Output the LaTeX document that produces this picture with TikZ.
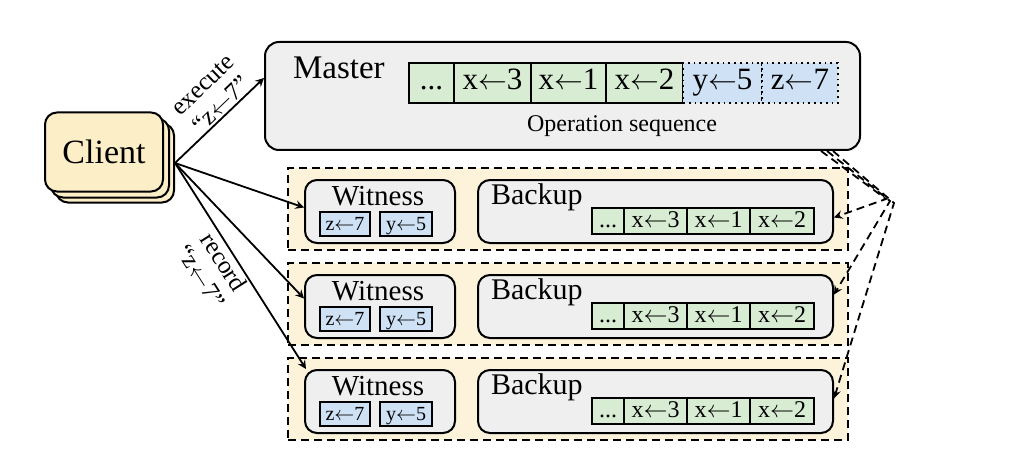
\documentclass[tikz,border=0pt]{standalone}
\usepackage{fontspec}
\setmainfont{Liberation Serif}
\usetikzlibrary{positioning}

\definecolor{clientfill}{HTML}{FCEFC8}
\definecolor{replicafill}{HTML}{FDF3DA}
\definecolor{boxgray}{HTML}{EFEFF0}
\definecolor{cellgreen}{HTML}{D7ECD2}
\definecolor{cellblue}{HTML}{CFE1F4}

\newcommand{\op}[2]{#1$\leftarrow$#2}
\newcommand{\opdots}{...}

\begin{document}
\begin{tikzpicture}[x=0.5pt, y=-0.5pt, >=stealth,
  box/.style={draw, line width=1pt, fill=boxgray, rounded corners=7pt, inner sep=0pt},
  clientbox/.style={draw, line width=1pt, fill=clientfill, rounded corners=6pt,
    minimum width=59pt, minimum height=39.5pt, inner sep=0pt},
  replica/.style={draw, line width=1pt, dashed, dash pattern=on 4pt off 2.5pt,
    fill=replicafill, minimum width=280pt, minimum height=41pt, inner sep=0pt},
  cell/.style={draw, line width=0.9pt, fill=cellgreen, inner sep=0pt,
    text height=0.68em, text depth=0.05em},
  bigcell/.style={cell, minimum height=20pt, font=\fontsize{15.5}{17}\selectfont},
  midcell/.style={cell, minimum height=13pt, font=\fontsize{12}{14}\selectfont},
  smallcell/.style={cell, fill=cellblue, minimum height=12pt, font=\fontsize{10}{12}\selectfont},
  lbl/.style={font=\fontsize{12.5}{13.5}\selectfont, align=center, inner sep=1pt},
  req/.style={line width=0.9pt, ->},
  repl/.style={line width=0.9pt, dashed, dash pattern=on 4pt off 2.5pt, ->}]

  \useasboundingbox (0,0) rectangle (1028,476);

  % client stack
  \node[clientbox] (cl3) at (115,163) {};
  \node[clientbox] (cl2) at (110,158) {};
  \node[clientbox, font=\fontsize{17}{19}\selectfont] (cl) at (104,152) {Client};

  % master
  \node[box, minimum width=297.5pt, minimum height=54pt] (master) at (562.5,96) {};
  \node[anchor=west, font=\fontsize{16.5}{18}\selectfont] (mlabel) at (286,68) {Master};
  \foreach \i/\x/\w/\t in {1/431.5/22.5pt/\opdots, 2/492.5/38.5pt/\op{x}{3},
      3/568.5/37.5pt/\op{x}{1}, 4/644.5/38.5pt/\op{x}{2}} {
    \node[bigcell, minimum width=\w] (m\i) at (\x,83) {\t};
  }
  \node[bigcell, dotted, line width=1.1pt, fill=cellblue, minimum width=39.5pt] (m5) at (722.5,83) {\op{y}{5}};
  \node[bigcell, dotted, line width=1.1pt, fill=cellblue, minimum width=38pt] (m6) at (800,83) {\op{z}{7}};
  \node[font=\fontsize{12}{14}\selectfont] (opseq) at (622,126) {Operation sequence};

  % replicas
  \foreach \r in {1,2,3} {
    \begin{scope}[yshift={-(\r-1)*47.5pt}]
      \node[replica] (rep\r) at (568,209) {};
      \node[box, rounded corners=6pt, minimum width=75pt, minimum height=31.5pt] (wit\r) at (380,211.5) {};
      \node[font=\fontsize{14.5}{16}\selectfont] (wlabel\r) at (378,196) {Witness};
      \node[smallcell, minimum width=25pt] (wz\r) at (345,224) {\op{z}{7}};
      \node[smallcell, minimum width=26pt] (wy\r) at (406,224) {\op{y}{5}};
      \node[box, rounded corners=6pt, minimum width=177.5pt, minimum height=31.5pt] (bk\r) at (655.5,211.5) {};
      \node[anchor=west, font=\fontsize{15}{17}\selectfont] (blabel\r) at (484,197) {Backup};
      \foreach \i/\x/\w/\t in {1/608/16pt/\opdots, 2/655.5/31.5pt/\op{x}{3},
          3/718.5/31.5pt/\op{x}{1}, 4/782/32pt/\op{x}{2}} {
        \node[midcell, minimum width=\w] (bk\r c\i) at (\x,221) {\t};
      }
    \end{scope}
  }

  % client requests
  \draw[req] (cl3.east) -- ([yshift=9pt]master.west)
    node[lbl, pos=0.6, sloped, above] {execute\\“z$\leftarrow$7”};
  \draw[req] (cl3.east) -- ([yshift=2pt]wit1.west);
  \draw[req] (cl3.east) -- ([yshift=4pt]wit2.west);
  \draw[req] (cl3.east) -- ([xshift=1pt]wit3.north west)
    node[lbl, pos=0.45, sloped, below] {record\\“z$\leftarrow$7”};

  % replication
  \coordinate (pv1) at (886,199);
  \coordinate (pv2) at (890,201);
  \coordinate (pv3) at (894,203);
  \draw[repl] ([xshift=-20pt]master.south east) -- (pv1) -- ([yshift=-3pt]bk1.east);
  \draw[repl] ([xshift=-17pt]master.south east) -- (pv2) -- ([yshift=6pt]bk2.east);
  \draw[repl] ([xshift=-14pt]master.south east) -- (pv3) -- ([yshift=1.5pt]bk3.east);
\end{tikzpicture}
\end{document}
